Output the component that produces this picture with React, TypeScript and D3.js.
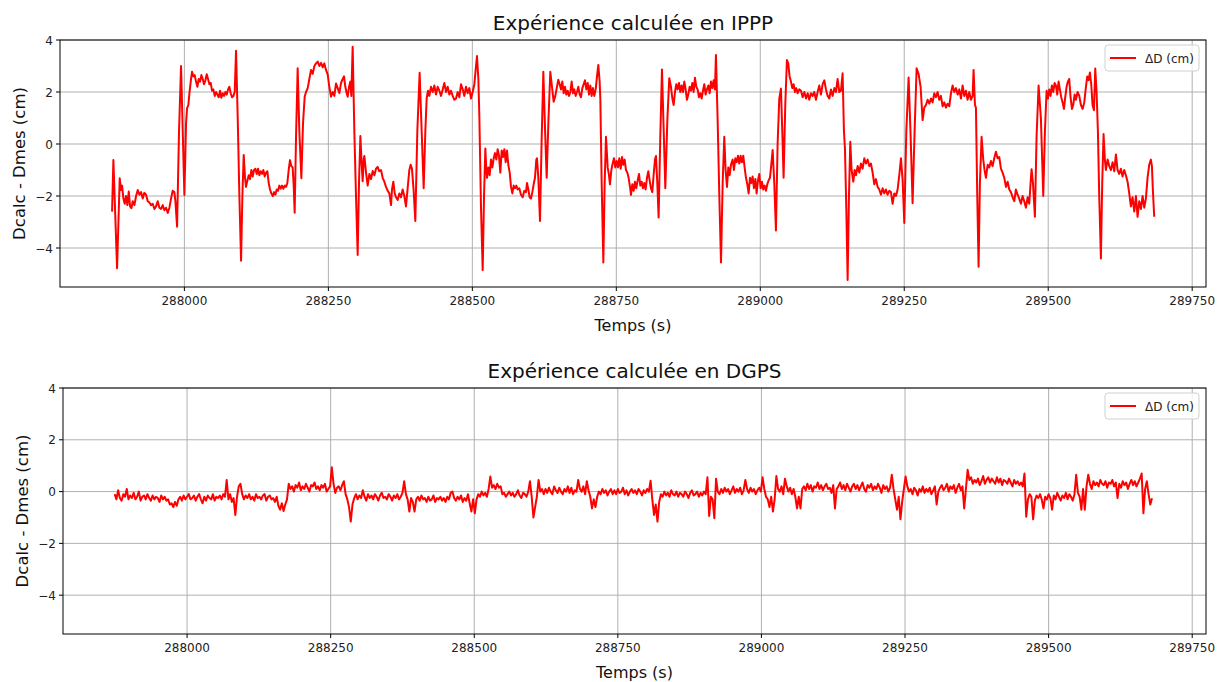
import React from 'react';
import * as d3 from 'd3';

// ---------- DATA ----------
const TITLES = ['Expérience calculée en IPPP', 'Expérience calculée en DGPS'];
const X_LABEL = 'Temps (s)';
const Y_LABEL = 'Dcalc - Dmes (cm)';
const LEGEND_LABEL = 'ΔD (cm)';
const X_TICKS = [288000, 288250, 288500, 288750, 289000, 289250, 289500, 289750];
const Y_TICKS = [-4, -2, 0, 2, 4];
const X_DOMAIN = [287784, 289774];
const Y_DOMAIN = [-5.5, 4];

// IPPP series: [time (s), ΔD (cm)]
const IPPP: [number, number][] = [
  [287874.4,-2.60],[287876.7,-0.62],[287883.1,-4.78],[287887.7,-1.32],[287890.0,-1.77],[287891.8,-1.6],
  [287894.1,-2.1],[287896.4,-2.3],[287898.7,-2.0],[287901.0,-2.35],[287903.4,-1.83],[287905.7,-2.4],
  [287908.0,-2.47],[287910.3,-2.2],[287913.2,-2.35],[287916.1,-2.0],[287919.0,-1.77],[287921.9,-1.95],
  [287924.8,-1.85],[287927.7,-2.1],[287930.5,-1.88],[287933.4,-1.95],[287936.3,-2.2],[287939.2,-2.25],
  [287942.1,-2.35],[287945.0,-2.3],[287947.9,-2.5],[287950.8,-2.4],[287953.7,-2.2],[287956.6,-2.45],
  [287959.5,-2.5],[287962.4,-2.35],[287965.3,-2.55],[287968.2,-2.45],[287971.1,-2.65],[287974.0,-2.45],
  [287976.8,-2.1],[287979.7,-1.8],[287982.6,-1.85],[287984.4,-2.2],[287987.3,-3.18],[287990.7,0.5],
  [287994.2,3.0],[287997.1,0.5],[288000.0,-1.96],[288002.9,0.8],[288004.6,1.37],[288006.9,1.5],
  [288008.7,1.95],[288011.0,2.4],[288013.3,2.78],[288015.6,2.6],[288017.9,2.65],[288020.2,2.4],
  [288022.6,2.2],[288024.9,2.5],[288027.2,2.4],[288029.5,2.65],[288031.8,2.5],[288034.1,2.3],
  [288036.5,2.45],[288038.8,2.68],[288041.1,2.5],[288043.4,2.3],[288045.7,2.35],[288048.0,2.05],
  [288050.3,2.1],[288052.7,1.85],[288055.0,2.0],[288057.3,1.9],[288059.6,1.8],[288061.9,2.05],
  [288064.2,1.78],[288066.6,1.95],[288068.9,1.85],[288071.2,2.0],[288073.5,1.9],[288075.8,2.1],
  [288078.1,2.2],[288080.4,1.95],[288082.7,1.8],[288085.1,1.85],[288087.4,2.0],[288089.7,3.59],
  [288092.6,1.0],[288095.5,-2.0],[288098.4,-4.49],[288100.7,-2.0],[288103.0,-0.42],[288105.3,-1.3],
  [288107.0,-1.65],[288109.4,-1.4],[288111.7,-1.2],[288114.0,-1.35],[288116.3,-1.0],[288118.6,-1.25],
  [288121.0,-1.0],[288123.3,-0.95],[288125.6,-1.15],[288127.9,-0.95],[288130.2,-1.2],[288132.5,-1.05],
  [288134.8,-1.15],[288137.1,-1.0],[288139.4,-1.25],[288141.8,-1.1],[288144.1,-1.05],[288146.4,-1.5],
  [288148.7,-1.75],[288151.0,-1.9],[288153.4,-2.0],[288155.7,-1.85],[288158.0,-1.95],[288160.3,-1.75],
  [288162.6,-1.8],[288164.9,-1.6],[288167.2,-1.72],[288169.5,-1.6],[288171.9,-1.72],[288174.2,-1.6],
  [288176.5,-1.65],[288178.8,-1.5],[288181.1,-1.0],[288183.4,-0.62],[288185.7,-0.85],[288188.0,-0.9],
  [288189.8,-1.6],[288191.5,-2.64],[288193.8,0.2],[288196.7,2.91],[288199.6,0.5],[288203.1,-1.32],
  [288206.0,0.8],[288208.9,1.82],[288211.2,2.0],[288214.1,2.15],[288217.0,2.5],[288219.9,2.85],
  [288222.8,2.7],[288225.7,3.0],[288228.6,3.1],[288231.5,3.17],[288234.4,3.0],[288237.3,3.12],
  [288240.2,2.95],[288243.0,3.1],[288245.9,2.85],[288248.8,2.68],[288251.7,2.2],[288254.6,1.82],
  [288257.5,2.0],[288260.4,1.85],[288263.3,2.33],[288266.2,2.15],[288269.1,1.96],[288272.0,2.35],
  [288274.9,2.5],[288277.2,2.6],[288279.5,2.2],[288281.8,1.95],[288283.6,1.82],[288285.9,2.2],
  [288288.2,2.4],[288289.9,1.85],[288292.2,3.74],[288295.1,0.5],[288298.0,-2.0],[288300.9,-4.27],
  [288303.2,-1.5],[288305.6,0.31],[288307.9,-0.8],[288309.6,-1.43],[288311.3,-0.6],[288312.5,-0.46],
  [288315.4,-1.1],[288318.3,-1.6],[288321.2,-1.15],[288324.1,-1.35],[288327.0,-1.04],[288329.9,-1.2],
  [288332.7,-0.95],[288335.6,-0.88],[288338.5,-1.05],[288341.4,-1.0],[288344.3,-1.3],[288347.2,-1.45],
  [288350.1,-1.65],[288353.0,-1.8],[288355.9,-1.9],[288358.8,-2.35],[288360.5,-1.75],[288362.8,-1.45],
  [288365.2,-1.9],[288367.5,-2.05],[288370.4,-2.15],[288373.2,-1.9],[288376.1,-2.05],[288379.0,-1.75],
  [288381.9,-2.0],[288384.8,-2.4],[288387.7,-1.7],[288390.6,-1.0],[288392.9,-0.8],[288395.2,-0.95],
  [288398.1,-1.8],[288401.0,-2.96],[288404.5,0.5],[288408.5,2.74],[288412.0,0.5],[288415.5,-1.7],
  [288418.4,0.5],[288420.7,1.75],[288423.0,2.05],[288425.3,1.85],[288428.2,2.2],[288431.1,2.0],
  [288434.0,2.25],[288436.9,1.9],[288439.8,2.2],[288442.7,2.05],[288445.6,1.85],[288448.5,2.1],
  [288451.4,2.35],[288454.3,2.0],[288457.2,2.2],[288460.1,1.9],[288463.0,2.05],[288465.9,1.85],
  [288468.8,1.7],[288471.7,1.75],[288474.6,2.0],[288477.5,1.8],[288480.4,2.3],[288483.3,2.1],
  [288486.1,1.85],[288489.0,2.2],[288491.9,1.95],[288494.8,2.15],[288497.7,1.75],[288500.6,2.0],
  [288503.5,2.3],[288506.4,3.0],[288508.1,3.38],[288510.5,2.5],[288512.2,1.05],[288515.1,-2.5],
  [288518.0,-4.85],[288520.3,-2.0],[288522.6,-0.17],[288524.3,-1.0],[288525.5,-1.3],[288527.8,-0.9],
  [288530.1,-1.2],[288532.4,-0.6],[288534.8,-0.9],[288537.1,-0.55],[288539.4,-0.35],[288541.7,-0.6],
  [288544.0,-0.2],[288546.3,-0.45],[288548.6,-1.1],[288551.0,-0.25],[288553.3,-0.5],[288555.6,-0.2],
  [288557.9,-0.7],[288560.2,-0.25],[288562.5,-0.8],[288564.9,-1.1],[288567.2,-1.65],[288569.5,-1.9],
  [288571.8,-1.6],[288574.1,-1.7],[288576.4,-1.6],[288578.7,-1.75],[288581.6,-1.7],[288584.5,-1.95],
  [288587.4,-2.05],[288590.3,-1.8],[288593.2,-1.85],[288594.9,-1.5],[288597.3,-1.75],[288599.6,-2.05],
  [288601.9,-2.1],[288604.2,-1.85],[288606.5,-1.55],[288608.8,-1.3],[288611.1,-0.6],[288612.3,-0.55],
  [288614.6,-1.3],[288617.5,-2.96],[288620.4,0.2],[288623.3,2.78],[288626.2,0.6],[288629.1,-1.3],
  [288632.0,0.8],[288635.4,2.78],[288638.3,2.2],[288641.2,1.63],[288644.1,1.85],[288647.0,2.2],
  [288649.3,2.47],[288651.7,2.3],[288654.0,2.1],[288656.3,2.4],[288658.6,1.95],[288660.9,2.2],
  [288663.2,1.9],[288665.6,2.05],[288667.9,1.85],[288670.2,2.0],[288672.5,2.4],[288674.8,1.95],
  [288677.1,2.1],[288679.4,1.85],[288681.7,2.0],[288684.1,2.2],[288686.4,1.9],[288688.7,1.8],
  [288691.0,2.15],[288693.3,2.3],[288695.6,2.45],[288698.0,2.1],[288700.3,2.35],[288702.6,1.9],
  [288704.9,2.25],[288707.2,1.85],[288709.5,2.15],[288711.8,1.85],[288714.2,2.1],[288716.5,2.6],
  [288718.8,3.04],[288721.1,2.4],[288722.3,1.7],[288724.6,-1.5],[288727.5,-4.56],[288729.8,-1.5],
  [288732.1,0.28],[288733.8,-0.4],[288735.0,-0.9],[288737.3,-1.2],[288739.0,-1.55],[288741.4,-1.0],
  [288743.7,-0.75],[288746.0,-0.55],[288748.3,-0.9],[288750.6,-0.65],[288752.9,-0.9],[288755.2,-0.55],
  [288757.6,-0.95],[288759.9,-0.5],[288762.2,-0.8],[288764.5,-0.6],[288766.8,-1.0],[288769.1,-1.1],
  [288771.4,-1.3],[288773.8,-1.65],[288775.5,-1.96],[288777.8,-1.55],[288780.1,-1.8],[288782.4,-1.45],
  [288784.7,-1.7],[288787.1,-1.4],[288789.4,-1.15],[288791.7,-1.6],[288794.0,-1.45],[288796.3,-1.7],
  [288798.6,-1.5],[288800.9,-1.75],[288803.3,-1.3],[288805.6,-1.05],[288807.9,-1.4],[288810.2,-1.7],
  [288812.5,-1.85],[288814.8,-1.2],[288817.2,-0.6],[288818.9,-0.46],[288821.2,-1.5],[288823.5,-2.83],
  [288826.4,0.3],[288829.3,2.87],[288832.2,0.6],[288835.1,-1.7],[288838.6,0.9],[288842.0,2.53],
  [288844.9,2.2],[288847.3,1.75],[288849.6,1.5],[288851.9,2.0],[288854.2,2.3],[288856.5,2.1],
  [288858.8,2.35],[288861.1,2.0],[288863.4,2.25],[288865.8,2.0],[288868.1,2.4],[288870.4,2.1],
  [288872.7,1.7],[288875.0,1.9],[288877.3,2.2],[288879.7,2.05],[288882.0,2.35],[288884.3,2.0],
  [288886.6,2.55],[288888.9,2.2],[288891.2,2.1],[288893.5,1.8],[288895.9,1.95],[288898.2,1.75],
  [288900.5,2.05],[288902.8,2.3],[288905.1,1.9],[288907.4,2.1],[288909.8,2.25],[288912.1,1.95],
  [288914.4,2.4],[288916.7,2.15],[288919.0,2.45],[288921.3,2.1],[288923.0,3.42],[288925.9,1.0],
  [288928.9,-2.0],[288931.8,-4.56],[288934.7,-1.5],[288937.5,0.28],[288939.8,-1.0],[288942.2,-1.65],
  [288944.5,-0.9],[288946.8,-1.2],[288949.1,-0.8],[288952.0,-0.6],[288954.3,-1.0],[288956.6,-0.55],
  [288958.9,-0.7],[288961.3,-0.45],[288963.6,-0.75],[288965.9,-0.45],[288968.2,-0.7],[288970.5,-0.45],
  [288972.8,-0.9],[288975.2,-1.3],[288977.5,-1.55],[288979.8,-1.9],[288982.1,-1.3],[288984.4,-1.5],
  [288986.7,-1.25],[288989.0,-1.7],[288991.4,-1.35],[288993.7,-1.9],[288996.0,-1.4],[288998.3,-1.15],
  [289000.6,-1.7],[289002.9,-1.45],[289005.2,-1.75],[289007.6,-1.6],[289009.9,-1.8],[289012.2,-1.55],
  [289014.5,-1.4],[289016.8,-1.3],[289019.1,-0.8],[289021.5,-0.23],[289024.3,-1.5],[289027.2,-3.33],
  [289030.1,0.0],[289033.0,1.74],[289035.9,2.13],[289038.2,0.5],[289040.5,-1.3],[289043.4,1.5],
  [289046.3,3.23],[289048.6,3.1],[289050.9,2.6],[289053.3,2.4],[289055.6,2.15],[289057.9,2.3],
  [289060.2,2.0],[289062.5,2.15],[289064.8,1.95],[289067.7,2.1],[289070.7,2.05],[289073.6,1.8],
  [289076.5,2.0],[289079.4,1.75],[289082.3,1.95],[289085.1,1.7],[289088.0,1.95],[289090.9,1.85],
  [289093.8,2.0],[289096.7,1.7],[289099.6,2.0],[289102.5,2.25],[289105.4,1.9],[289108.3,2.3],
  [289111.2,2.45],[289114.1,2.1],[289117.0,1.85],[289119.9,1.75],[289122.8,2.1],[289125.7,1.85],
  [289128.6,2.15],[289131.4,2.0],[289134.3,2.5],[289137.2,2.0],[289140.1,2.05],[289143.0,2.72],
  [289145.3,0.5],[289147.1,-0.2],[289149.4,-2.5],[289151.7,-5.23],[289154.0,-2.0],[289156.3,0.09],
  [289158.6,-1.0],[289161.5,-1.45],[289163.9,-1.0],[289166.2,-1.2],[289169.1,-0.85],[289172.0,-1.1],
  [289174.8,-0.75],[289177.7,-0.95],[289180.6,-0.55],[289183.5,-0.75],[289186.4,-0.6],[289189.3,-0.85],
  [289192.2,-0.75],[289195.1,-1.1],[289198.0,-1.55],[289200.9,-1.35],[289203.8,-1.65],[289206.7,-1.75],
  [289209.6,-1.95],[289212.5,-1.7],[289215.3,-1.9],[289218.2,-1.75],[289221.1,-1.95],[289224.0,-1.8],
  [289226.9,-1.85],[289229.8,-2.3],[289232.7,-1.9],[289235.6,-2.0],[289238.5,-1.75],[289241.4,-1.2],
  [289244.3,-0.55],[289247.2,-1.4],[289250.1,-3.04],[289253.6,0.5],[289257.6,2.56],[289261.1,0.3],
  [289264.5,-2.28],[289268.0,0.5],[289271.5,2.91],[289274.9,2.7],[289278.4,2.2],[289281.9,0.92],
  [289284.8,1.4],[289287.7,1.5],[289290.6,1.7],[289293.5,1.55],[289296.4,1.75],[289299.3,1.6],
  [289302.2,1.95],[289305.0,1.8],[289307.9,2.0],[289310.8,1.7],[289313.7,1.85],[289316.6,1.45],
  [289319.5,1.6],[289322.4,1.4],[289325.3,1.55],[289328.2,1.45],[289331.1,1.95],[289334.0,2.25],
  [289336.9,2.0],[289339.8,2.15],[289342.7,1.9],[289345.6,2.1],[289348.5,1.75],[289351.4,2.25],
  [289354.2,1.85],[289357.1,2.05],[289360.0,1.7],[289362.9,2.0],[289365.8,1.7],[289368.7,1.85],
  [289370.4,2.85],[289372.8,1.5],[289374.5,1.4],[289376.8,-2.0],[289379.1,-4.72],[289381.4,-1.5],
  [289384.3,0.28],[289387.2,-0.6],[289389.5,-1.0],[289391.9,-1.3],[289394.8,-0.8],[289397.6,-0.9],
  [289400.5,-0.65],[289403.4,-0.85],[289406.3,-0.55],[289409.2,-0.3],[289412.1,-0.55],[289415.0,-0.5],
  [289417.9,-0.95],[289420.8,-1.1],[289423.7,-1.3],[289426.6,-1.65],[289429.5,-1.45],[289432.4,-1.75],
  [289435.3,-1.85],[289438.2,-2.05],[289441.1,-2.2],[289443.9,-1.75],[289446.8,-1.95],[289449.7,-2.1],
  [289452.6,-2.3],[289455.5,-2.0],[289458.4,-2.2],[289461.3,-2.45],[289464.2,-2.05],[289467.1,-2.3],
  [289469.4,-1.5],[289471.1,-0.97],[289473.5,-1.5],[289476.9,-2.8],[289479.8,0.3],[289483.3,2.25],
  [289487.3,1.0],[289491.4,-2.0],[289494.3,0.5],[289497.2,2.05],[289499.5,1.75],[289501.8,2.1],
  [289504.1,1.85],[289506.4,2.25],[289508.8,2.0],[289511.1,2.35],[289513.4,2.25],[289515.7,1.9],
  [289518.0,2.4],[289520.3,2.1],[289522.6,1.8],[289525.0,1.6],[289527.3,1.35],[289529.6,1.8],
  [289531.9,2.2],[289534.2,2.4],[289536.5,2.5],[289538.8,1.8],[289541.2,1.35],[289543.5,1.5],
  [289545.8,1.9],[289548.1,1.7],[289551.0,2.0],[289553.9,1.85],[289556.8,1.5],[289559.7,1.35],
  [289562.6,1.6],[289565.5,2.2],[289567.8,2.6],[289570.1,2.45],[289572.4,2.75],[289574.7,2.3],
  [289577.0,1.5],[289579.4,1.3],[289581.7,2.9],[289584.0,2.0],[289586.3,0.5],[289588.6,-2.0],
  [289591.5,-4.4],[289593.8,-1.5],[289596.1,0.38],[289598.4,-0.6],[289600.2,-1.0],[289603.1,-0.6],
  [289606.0,-0.85],[289608.9,-1.0],[289611.8,-0.7],[289614.7,-1.05],[289617.6,-0.4],[289620.4,-1.0],
  [289623.3,-1.15],[289626.2,-0.95],[289629.1,-1.25],[289632.0,-1.0],[289634.9,-1.2],[289637.8,-1.45],
  [289640.7,-1.9],[289643.6,-2.4],[289646.5,-2.05],[289649.4,-2.6],[289652.3,-2.0],[289655.2,-2.8],
  [289658.1,-2.2],[289661.0,-2.5],[289663.9,-2.0],[289666.8,-2.45],[289669.6,-2.1],[289672.5,-1.3],
  [289675.4,-0.8],[289678.3,-0.6],[289680.1,-0.85],[289681.8,-1.8],[289684.1,-2.8],
];

// DGPS series: sampled every DGPS_STEP seconds from DGPS_START
const DGPS_START = 287874;
const DGPS_STEP = 3;
const DGPS: number[] = [
  -0.1,-0.3,0.05,-0.25,-0.35,-0.1,-0.2,0.1,-0.3,-0.15,
  -0.25,-0.05,-0.3,-0.2,0.0,-0.35,-0.2,-0.15,-0.3,-0.1,
  -0.25,-0.35,-0.15,-0.3,-0.2,-0.25,-0.4,-0.15,-0.3,-0.2,
  -0.35,-0.3,-0.5,-0.45,-0.6,-0.4,-0.55,-0.3,-0.2,-0.35,
  -0.15,-0.3,-0.2,-0.1,-0.3,-0.25,-0.15,-0.35,-0.2,-0.1,
  -0.3,-0.45,-0.2,-0.35,-0.15,-0.25,-0.3,-0.1,-0.35,-0.2,
  -0.25,-0.15,-0.3,-0.1,-0.2,0.45,-0.3,-0.1,-0.4,-0.25,
  -0.9,-0.2,0.2,0.3,-0.1,-0.3,-0.15,-0.25,-0.1,-0.3,
  -0.2,-0.35,-0.1,-0.25,-0.2,-0.3,-0.15,-0.1,-0.35,-0.2,
  -0.15,-0.3,-0.25,-0.4,-0.2,-0.55,-0.7,-0.45,-0.75,-0.5,
  -0.3,0.3,0.1,0.2,0.0,0.25,0.15,0.35,0.05,0.2,
  0.1,0.3,0.15,0.0,0.25,0.2,0.35,0.1,0.2,0.05,
  0.25,0.15,0.3,0.0,0.1,0.2,0.94,0.3,-0.05,0.15,
  0.2,0.05,0.25,0.4,-0.1,-0.3,-0.6,-1.16,-0.5,-0.25,
  -0.1,-0.3,-0.15,-0.25,0.05,-0.2,-0.35,-0.1,-0.25,-0.15,
  -0.3,-0.1,-0.2,-0.35,-0.15,-0.05,-0.25,-0.2,-0.3,-0.1,
  -0.2,-0.35,-0.15,-0.25,-0.1,-0.3,-0.2,-0.05,0.4,-0.1,
  -0.3,-0.77,-0.25,-0.4,-0.77,-0.3,-0.2,-0.35,-0.15,-0.3,
  -0.25,-0.4,-0.2,-0.35,-0.3,-0.15,-0.4,-0.25,-0.3,-0.2,
  -0.35,-0.25,-0.4,-0.2,-0.3,-0.05,0.0,-0.25,-0.35,-0.2,
  -0.3,-0.15,-0.4,-0.25,-0.35,-0.1,-0.45,-0.77,-0.3,-0.84,
  -0.3,-0.1,-0.2,0.0,-0.15,-0.05,-0.2,0.1,0.58,0.15,
  0.25,0.1,0.3,0.15,0.2,-0.1,-0.05,-0.2,-0.1,0.0,
  -0.15,-0.05,-0.2,-0.1,0.05,-0.15,-0.25,-0.05,-0.1,-0.2,
  0.0,0.4,-0.2,-1.0,-0.6,-0.2,0.45,0.0,0.1,-0.1,
  0.1,-0.05,0.15,0.0,-0.1,0.2,0.05,-0.05,0.15,0.0,
  -0.1,0.1,0.0,0.2,-0.05,0.15,-0.1,0.05,0.0,0.45,
  0.1,0.0,0.2,-0.1,0.4,0.05,-0.2,-0.65,-0.3,-0.6,
  -0.2,0.0,-0.1,0.1,-0.05,0.05,-0.15,0.0,0.1,-0.1,
  0.05,-0.1,0.1,-0.05,0.0,0.15,-0.1,0.05,-0.15,0.0,
  0.1,-0.05,0.05,-0.1,0.1,0.0,-0.15,0.05,-0.05,0.1,
  0.0,0.42,-0.3,-0.9,-0.5,-1.16,-0.4,-0.1,-0.2,0.0,
  -0.15,-0.05,-0.2,0.05,-0.1,-0.15,0.0,-0.2,-0.05,-0.1,
  -0.2,0.0,-0.1,-0.25,-0.05,0.05,-0.15,-0.1,0.0,-0.2,
  -0.05,-0.15,0.0,-0.1,0.55,-0.94,-0.2,-0.3,-1.03,0.5,
  0.0,-0.1,0.1,-0.05,0.15,0.0,0.1,-0.1,0.05,0.2,
  -0.05,0.1,0.0,0.15,-0.1,0.05,0.45,0.1,-0.05,0.15,
  0.0,0.1,-0.1,0.05,0.15,0.0,0.55,0.1,-0.2,-0.3,
  -0.6,-0.2,-0.77,-0.3,0.6,0.1,0.0,0.2,-0.1,0.5,
  0.2,0.0,0.15,-0.1,0.1,-0.2,-0.65,-0.2,-0.65,0.1,
  0.2,0.05,0.3,0.1,0.25,0.0,0.2,0.15,0.35,0.1,
  0.25,0.05,0.2,0.3,0.1,0.15,-0.05,0.25,-0.65,0.1,
  0.2,0.35,0.1,0.25,0.05,0.3,0.15,0.0,0.2,0.3,
  0.1,0.25,0.05,0.2,0.35,0.1,0.0,0.25,0.15,0.3,
  0.05,0.2,0.1,0.3,0.15,-0.05,0.25,0.1,0.2,0.0,
  0.15,0.65,0.1,-0.3,-0.7,-0.2,-1.07,-0.4,0.1,0.58,
  0.2,0.0,0.1,-0.1,0.15,0.05,-0.15,0.1,0.0,0.2,
  -0.05,0.1,0.0,0.15,-0.1,0.05,0.2,-0.5,0.0,0.15,
  0.25,0.05,0.15,0.3,0.0,0.2,0.1,0.25,-0.05,0.15,
  0.3,0.05,0.2,-0.65,0.1,0.84,0.45,0.55,0.3,0.45,
  0.35,0.5,0.25,0.4,0.6,0.3,0.45,0.55,0.35,0.5,
  0.4,0.3,0.55,0.35,0.5,0.25,0.45,0.4,0.3,0.5,
  0.35,0.2,0.45,0.3,0.4,0.25,0.35,0.2,0.7,-0.97,
  -0.3,-0.1,-0.2,-1.07,-0.35,-0.15,-0.25,-0.1,-0.3,-0.65,
  -0.2,-0.3,-0.1,-0.25,-0.7,-0.15,-0.3,-0.05,-0.2,-0.35,
  -0.15,-0.25,-0.05,-0.3,-0.1,-0.2,-0.35,-0.1,0.65,-0.05,
  -0.2,-0.7,0.1,-0.7,0.2,0.65,0.3,0.1,0.4,0.25,
  0.35,0.2,0.45,0.3,0.25,0.4,0.15,0.35,0.3,0.45,
  0.2,0.35,-0.25,0.3,0.15,0.4,0.25,0.35,0.1,0.3,
  0.45,0.25,0.4,0.2,0.35,0.5,0.7,-0.84,0.1,0.4,
  -0.1,-0.5,-0.26,
];

// ---------- CHART ----------
const FONT = '"DejaVu Sans", Verdana, sans-serif';
const LINE_COLOR = '#ff0000';
const GRID_COLOR = '#b0b0b0';

type PanelProps = {
  title: string;
  data: [number, number][];
  left: number; right: number; top: number; bottom: number;
};

function fmtY(v: number) {
  return (v < 0 ? '\u2212' : '') + Math.abs(v);
}

function Panel({ title, data, left, right, top, bottom }: PanelProps) {
  const x = d3.scaleLinear().domain(X_DOMAIN).range([left, right]);
  const y = d3.scaleLinear().domain(Y_DOMAIN).range([bottom, top]);
  const line = d3.line<[number, number]>().x(d => x(d[0])).y(d => y(d[1]));
  const cx = (left + right) / 2;
  const cy = (top + bottom) / 2;
  const clipId = 'clip-' + Math.round(top);
  const legW = 94, legH = 26;
  const legX = right - 7 - legW, legY = top + 5;
  return (
    <g>
      <defs>
        <clipPath id={clipId}>
          <rect x={left} y={top} width={right - left} height={bottom - top} />
        </clipPath>
      </defs>
      {X_TICKS.map(t => (
        <line key={'gx' + t} x1={x(t)} x2={x(t)} y1={top} y2={bottom} stroke={GRID_COLOR} strokeWidth={1} />
      ))}
      {Y_TICKS.map(t => (
        <line key={'gy' + t} x1={left} x2={right} y1={y(t)} y2={y(t)} stroke={GRID_COLOR} strokeWidth={1} />
      ))}
      <path d={line(data) || ''} fill="none" stroke={LINE_COLOR} strokeWidth={2} strokeLinejoin="round" clipPath={`url(#${clipId})`} />
      <rect x={left} y={top} width={right - left} height={bottom - top} fill="none" stroke="#000" strokeWidth={1} />
      {X_TICKS.map(t => (
        <g key={'tx' + t}>
          <line x1={x(t)} x2={x(t)} y1={bottom} y2={bottom + 4} stroke="#000" strokeWidth={1} />
          <text x={x(t)} y={bottom + 18} textAnchor="middle" fontSize={12} fontFamily={FONT} fill="#222">{d3.format('d')(t)}</text>
        </g>
      ))}
      {Y_TICKS.map(t => (
        <g key={'ty' + t}>
          <line x1={left - 4} x2={left} y1={y(t)} y2={y(t)} stroke="#000" strokeWidth={1} />
          <text x={left - 7} y={y(t) + 4.5} textAnchor="end" fontSize={12} fontFamily={FONT} fill="#222">{fmtY(t)}</text>
        </g>
      ))}
      <text x={cx} y={top - 10} textAnchor="middle" fontSize={20} fontFamily={FONT} fill="#111">{title}</text>
      <text x={cx} y={bottom + 44} textAnchor="middle" fontSize={16} fontFamily={FONT} fill="#111">{X_LABEL}</text>
      <text transform={`translate(${left - 35},${cy}) rotate(-90)`} textAnchor="middle" fontSize={16.5} fontFamily={FONT} fill="#111">{Y_LABEL}</text>
      <rect x={legX} y={legY} width={legW} height={legH} rx={3} fill="#fff" fillOpacity={0.8} stroke="#d0d0d0" strokeWidth={1} />
      <line x1={legX + 5} x2={legX + 31} y1={legY + legH / 2} y2={legY + legH / 2} stroke={LINE_COLOR} strokeWidth={2} />
      <text x={legX + 40} y={legY + legH / 2 + 4.5} fontSize={12} fontFamily={FONT} fill="#222">{LEGEND_LABEL}</text>
    </g>
  );
}

export default function App() {
  const dgpsData: [number, number][] = DGPS.map((v, i) => [DGPS_START + i * DGPS_STEP, v]);
  return (
    <div style={{ position: 'absolute', left: 0, top: 0 }}>
      <svg width={1223} height={682} style={{ display: 'block', background: '#fff' }}>
        <Panel title={TITLES[0]} data={IPPP} left={60} right={1206} top={40} bottom={287} />
        <Panel title={TITLES[1]} data={dgpsData} left={63} right={1206} top={388} bottom={634} />
      </svg>
    </div>
  );
}
